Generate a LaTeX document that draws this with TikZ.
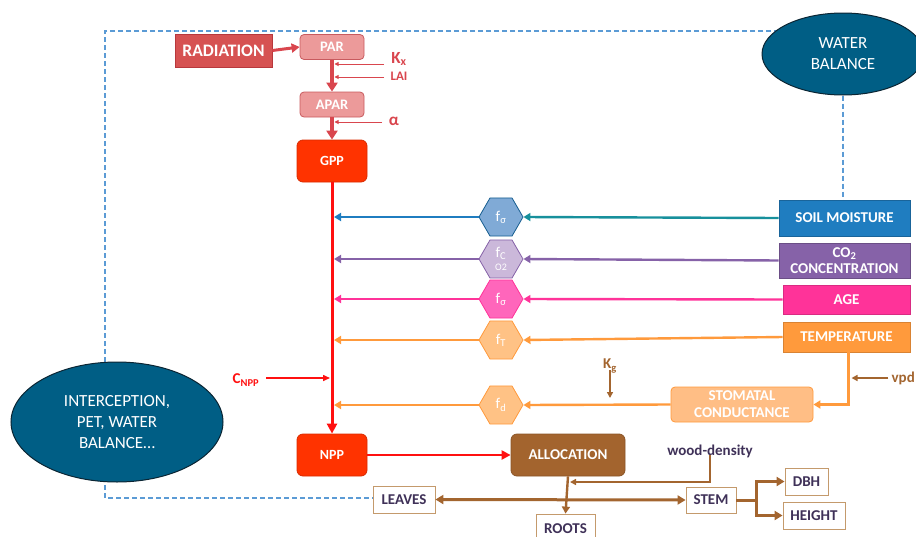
\documentclass[tikz,border=0pt]{standalone}
\usepackage{fontspec}
\setmainfont{Carlito}
\usetikzlibrary{shapes.geometric,arrows.meta,backgrounds}
\definecolor{radfill}{HTML}{D65252}
\definecolor{radline}{HTML}{B8383C}
\definecolor{parfill}{HTML}{EC9A9A}
\definecolor{parline}{HTML}{C85A5E}
\definecolor{redarr}{HTML}{D9464E}
\definecolor{gppfill}{HTML}{FF3300}
\definecolor{mainred}{HTML}{FF1010}
\definecolor{ellfill}{HTML}{005E85}
\definecolor{ellline}{HTML}{0B2533}
\definecolor{dashblue}{HTML}{5B9BD5}
\definecolor{soilc}{HTML}{1F7DC0}
\definecolor{tealc}{HTML}{17909C}
\definecolor{soilhex}{HTML}{80AAD6}
\definecolor{co2c}{HTML}{8662A8}
\definecolor{co2hex}{HTML}{CBB8DA}
\definecolor{agec}{HTML}{FF3399}
\definecolor{agehex}{HTML}{FF66BB}
\definecolor{tempc}{HTML}{FF9A3C}
\definecolor{temphex}{HTML}{FFC285}
\definecolor{stomc}{HTML}{FFBE85}
\definecolor{brownc}{HTML}{A3652F}
\definecolor{allocc}{HTML}{A3642E}
\definecolor{darktxt}{HTML}{3F3158}
\definecolor{tanline}{HTML}{C49A6C}
\begin{document}
\begin{tikzpicture}[x=1pt,y=-1pt,
  box/.style={draw, line width=0.8pt, text=white, font=\bfseries\fontsize{15}{16}\selectfont, inner sep=0pt, align=center},
  rbox/.style={box, rounded corners=4pt},
  hexa/.style={regular polygon, regular polygon sides=6, minimum size=44pt, inner sep=0pt, line width=0.8pt, text=white, font=\fontsize{15}{15}\selectfont},
  wbox/.style={draw=tanline, fill=white, line width=0.8pt, text=darktxt, font=\bfseries\fontsize{15}{16}\selectfont, inner sep=0pt},
  ell/.style={ellipse, draw=ellline, fill=ellfill, line width=1pt, text=white, align=center, font=\fontsize{17}{21}\selectfont, inner sep=0pt},
  fatarrow/.style={line width=3pt, -{Triangle[length=8pt,width=9pt]}},
  midarrow/.style={line width=2.4pt, -{Triangle[length=7pt,width=8pt]}},
  thinarrow/.style={line width=0.9pt, -{Triangle[length=4pt,width=4pt]}},
  lbl/.style={font=\bfseries\fontsize{14}{14}\selectfont, inner sep=0pt},
  frame/.style={dashblue, line width=1.1pt, dash pattern=on 5pt off 3pt}
]
\useasboundingbox (0,0) rectangle (916,536);

% ellipses
\node[ell, minimum width=162pt, minimum height=82pt] (wb) at (843,54) {WATER\\BALANCE};
\node[ell, minimum width=212pt, minimum height=120pt] (inter) at (117,422) {INTERCEPTION,\\PET, WATER\\BALANCE\dots};

% radiation chain
\node[box, fill=radfill, draw=radline, minimum width=97pt, minimum height=33pt, font=\bfseries\fontsize{17.5}{19}\selectfont] (rad) at (223.5,50.5) {RADIATION};
\node[rbox, fill=parfill, draw=parline, minimum width=64pt, minimum height=25pt, font=\bfseries\fontsize{14.5}{15}\selectfont] (par) at (332,47) {PAR};
\node[rbox, fill=parfill, draw=parline, minimum width=64pt, minimum height=25pt, font=\bfseries\fontsize{14.5}{15}\selectfont] (apar) at (332,104.5) {APAR};
\node[rbox, fill=gppfill, draw=gppfill!85!black, minimum width=70pt, minimum height=42pt, rounded corners=6pt, font=\bfseries\fontsize{14}{15}\selectfont] (gpp) at (332,161) {GPP};
\node[rbox, fill=gppfill, draw=gppfill!85!black, minimum width=70pt, minimum height=42pt, rounded corners=6pt, font=\bfseries\fontsize{14}{15}\selectfont] (npp) at (332,455) {NPP};

% right boxes
\node[box, fill=soilc, draw=soilc!80!black, minimum width=131pt, minimum height=36pt] (soil) at (844.5,218) {SOIL MOISTURE};
\node[box, fill=co2c, draw=co2c!80!black, minimum width=131pt, minimum height=35pt, font=\bfseries\fontsize{15}{16.5}\selectfont] (co2) at (844.5,260.5) {CO\textsubscript{2}\\CONCENTRATION};
\node[box, fill=agec, draw=agec!85!black, minimum width=127pt, minimum height=29pt] (age) at (846.5,299.5) {AGE};
\node[box, fill=tempc, draw=tempc!85!black, minimum width=127pt, minimum height=30pt] (temp) at (846.5,337) {TEMPERATURE};
\node[rbox, fill=stomc, draw=tempc, minimum width=142pt, minimum height=35pt, font=\bfseries\fontsize{15}{17}\selectfont] (stom) at (742,404.5) {STOMATAL\\CONDUCTANCE};

% hexagons
\node[hexa, fill=soilhex, draw=soilc!75!black] (h1) at (501,217) {f\textsubscript{σ}};
\node[hexa, fill=co2hex, draw=co2c] (h2) at (501,259) {\shortstack{f\textsubscript{C}\\[2pt]{\fontsize{10}{10}\selectfont O2}}};
\node[hexa, fill=agehex, draw=agec] (h3) at (501,299) {f\textsubscript{σ}};
\node[hexa, fill=temphex, draw=tempc] (h4) at (501,340) {f\textsubscript{T}};
\node[hexa, fill=temphex, draw=tempc] (h5) at (501,405) {f\textsubscript{d}};

% allocation part
\node[rbox, fill=allocc, draw=allocc!85!black, minimum width=114pt, minimum height=42pt, rounded corners=6pt] (alloc) at (568,455) {ALLOCATION};
\node[wbox, minimum width=62pt, minimum height=27pt] (leaves) at (404,499.5) {LEAVES};
\node[wbox, minimum width=50pt, minimum height=26pt] (stem) at (711,500) {STEM};
\node[wbox, minimum width=43pt, minimum height=27pt] (dbh) at (806.5,481.5) {DBH};
\node[wbox, minimum width=62pt, minimum height=27pt] (height) at (814,515.5) {HEIGHT};
\node[wbox, minimum width=59pt, minimum height=30pt] (roots) at (565.5,529) {ROOTS};

% labels
\node[lbl, text=redarr, font=\bfseries\fontsize{17}{17}\selectfont] (kx) at (399,59) {K\textsubscript{x}};
\node[lbl, text=redarr, font=\bfseries\fontsize{13}{13}\selectfont] (lai) at (399,76.5) {LAI};
\node[lbl, text=redarr, font=\bfseries\fontsize{17}{17}\selectfont] (alpha) at (394,121) {α};
\node[lbl, text=mainred, font=\bfseries\fontsize{15}{15}\selectfont] (cnpp) at (246,380) {C\textsubscript{NPP}};
\node[lbl, text=brownc, font=\bfseries\fontsize{15}{15}\selectfont] (kg) at (610,366) {K\textsubscript{g}};
\node[lbl, text=brownc, font=\bfseries\fontsize{15}{15}\selectfont, anchor=east] (vpd) at (915,378) {vpd};
\node[lbl, text=darktxt, font=\bfseries\fontsize{15}{15}\selectfont] (wd) at (710,451) {wood-density};

% dashed frame
\begin{scope}[on background layer]
\coordinate (ftl) at (105,31);
\coordinate (fbl) at (105,498);
\draw[frame] (wb.center |- ftl) -- (ftl) -- (fbl) -- (leaves.west |- fbl);
\draw[frame] (wb.south) -- (wb.south |- soil.north);
\end{scope}

% radiation arrows
\draw[redarr, fatarrow] (rad.east) -- (par.west);
\draw[redarr, line width=3.5pt, -{Triangle[length=9pt,width=11pt]}] (par.south) -- (apar.north);
\draw[redarr, line width=3.5pt, -{Triangle[length=9pt,width=11pt]}] (apar.south) -- (gpp.north);
\coordinate (kxs) at (384,64);
\coordinate (lais) at (384,77);
\coordinate (als) at (382,122);
\draw[redarr, thinarrow, shorten >=2.5pt] (kxs) -- (kxs -| par.south);
\draw[redarr, thinarrow, shorten >=2.5pt] (lais) -- (lais -| par.south);
\draw[redarr, thinarrow, shorten >=2.5pt] (als) -- (als -| apar.south);

% main line
\draw[mainred, line width=3pt, -{Triangle[length=10pt,width=10pt]}] (gpp.south) -- (npp.north);
\coordinate (cns) at (266,378);
\draw[mainred, line width=1.5pt, -{Triangle[length=7pt,width=6pt]}, shorten >=2pt] (cns) -- (cns -| gpp.south);

% modifier arrows
\draw[tealc, midarrow] (soil.west) -- (h1.east);
\draw[soilc, midarrow, shorten >=2pt] (h1.west) -- (h1.west -| gpp.south);
\draw[co2c, midarrow] (co2.west) -- (h2.east);
\draw[co2c, midarrow, shorten >=2pt] (h2.west) -- (h2.west -| gpp.south);
\draw[agec, midarrow] (age.west) -- (h3.east);
\draw[agec, midarrow, shorten >=2pt] (h3.west) -- (h3.west -| gpp.south);
\draw[tempc, midarrow] (temp.west) -- (h4.east);
\draw[tempc, midarrow, shorten >=2pt] (h4.west) -- (h4.west -| gpp.south);
\draw[tempc, midarrow] (stom.west) -- (h5.east);
\draw[tempc, midarrow, shorten >=2pt] (h5.west) -- (h5.west -| gpp.south);
\coordinate (tdrop) at ([xshift=2pt]temp.south);
\draw[tempc, midarrow] (tdrop) |- (stom.east);
\coordinate (vpds) at ([xshift=-3pt]vpd.west);
\draw[brownc, line width=1.5pt, -{Triangle[length=6pt,width=6pt]}, shorten >=3pt] (vpds) -- (vpds -| tdrop);
\coordinate (kgs) at ([yshift=3pt]kg.south);
\draw[brownc, line width=1.5pt, -{Triangle[length=6pt,width=6pt]}] (kgs) -- (610,398);

% allocation arrows
\draw[mainred, line width=2.4pt, -{Triangle[length=9pt,width=9pt]}] (npp.east) -- (alloc.west);
\draw[brownc, midarrow] (alloc.south) -- (roots.north);
\coordinate (wdy) at (0,482);
\coordinate (wdt) at ([yshift=3pt]wd.south);
\coordinate (alx) at ([xshift=2pt]alloc.south);
\draw[brownc, line width=1.8pt, -{Triangle[length=6pt,width=6pt]}] (wdt) -- (wdt |- wdy) -- (alx |- wdy);
\draw[brownc, line width=3pt, {Triangle[length=8pt,width=9pt]}-{Triangle[length=8pt,width=9pt]}] (leaves.east) -- (stem.west);
\coordinate (br) at (756,500);
\draw[brownc, line width=3pt] (stem.east) -- (br);
\draw[brownc, line width=3pt, -{Triangle[length=8pt,width=9pt]}] (br) |- (dbh.west);
\draw[brownc, line width=3pt, -{Triangle[length=8pt,width=9pt]}] (br) |- (height.west);
\end{tikzpicture}
\end{document}
